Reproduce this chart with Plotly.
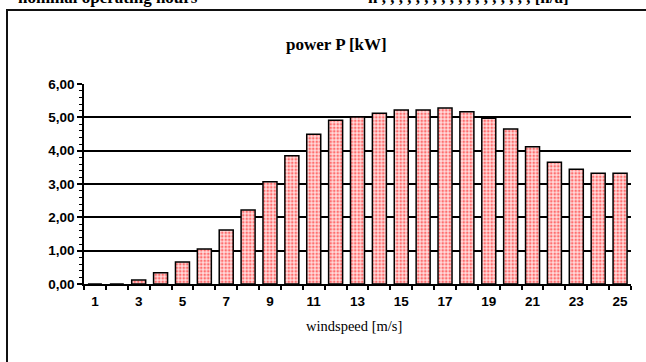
import plotly.graph_objects as go

windspeed = list(range(1, 26))
power_kw = [0.00, 0.00, 0.12, 0.34, 0.66, 1.05, 1.62, 2.22, 3.07, 3.85,
            4.49, 4.91, 5.01, 5.12, 5.22, 5.22, 5.28, 5.17, 4.97, 4.65,
            4.12, 3.65, 3.44, 3.32, 3.32]
x_tick_vals = list(range(1, 26, 2))
x_tick_text = [str(v) for v in x_tick_vals]
y_tick_vals = [0, 1, 2, 3, 4, 5, 6]
y_tick_text = ["0,00", "1,00", "2,00", "3,00", "4,00", "5,00", "6,00"]

W, H = 646, 362
L, R, T, B = 84, 15, 84, 78
pw = W - L - R
ph = H - T - B

def px(x):
    return (x - L) / pw

def py(y):
    return (H - B - y) / ph

fig = go.Figure()
fig.add_trace(go.Bar(
    x=windspeed, y=power_kw, width=0.64,
    marker=dict(color="white",
                line=dict(color="black", width=1.5),
                pattern=dict(shape=".", fgcolor="#ff0000", bgcolor="#ffdcdc",
                             size=3.5, solidity=0.45)),
    showlegend=False,
))

tickfont = dict(family="Liberation Sans, Arial", size=13.5, color="black")

fig.update_layout(
    width=W, height=H,
    margin=dict(l=L, r=R, t=T, b=B),
    paper_bgcolor="white", plot_bgcolor="white",
    xaxis=dict(range=[0.5, 25.5], tickmode="array", tickvals=x_tick_vals,
               ticktext=["<b>%s</b>" % t for t in x_tick_text], ticks="",
               showgrid=False, zeroline=False,
               showline=True, linecolor="black", linewidth=1.5,
               tickfont=tickfont, ticklabelstandoff=4,
               minor=dict(tickmode="linear", tick0=0.5, dtick=1, ticks="outside",
                          ticklen=4, tickwidth=1.5, tickcolor="black", showgrid=False),
               fixedrange=True),
    yaxis=dict(range=[0, 6], tickmode="array", tickvals=y_tick_vals,
               ticktext=["<b>%s</b>" % t for t in y_tick_text],
               ticks="outside", ticklen=5, tickwidth=1.5,
               tickcolor="black", showgrid=True, gridcolor="black", gridwidth=1.5,
               zeroline=False, showline=True, linecolor="black", linewidth=1.5,
               tickfont=tickfont,
               minor=dict(tickmode="linear", tick0=0, dtick=0.2, ticks="outside",
                          ticklen=3, tickwidth=1.2, tickcolor="black", showgrid=False),
               fixedrange=True),
    font=dict(family="Liberation Serif, Times New Roman", color="black"),
)

# outer frame
fig.add_shape(type="rect", xref="paper", yref="paper",
              x0=px(7), x1=px(660), y0=py(375), y1=py(10),
              line=dict(color="#111111", width=2), fillcolor="rgba(0,0,0,0)", layer="below")

# chart title
fig.add_annotation(text="<b>power P [kW]</b>", xref="paper", yref="paper",
                   x=px(336), y=py(45), xanchor="center", yanchor="middle",
                   showarrow=False,
                   font=dict(family="Liberation Serif, Times New Roman", size=17, color="black"))

# x axis title
fig.add_annotation(text="windspeed [m/s]", xref="paper", yref="paper",
                   x=px(354), y=py(326), xanchor="center", yanchor="middle",
                   showarrow=False,
                   font=dict(family="Liberation Serif, Times New Roman", size=14.5, color="black"))

# cut-off header text above the frame
fig.add_annotation(text="<b>nominal operating hours</b>", xref="paper", yref="paper",
                   x=px(200), y=py(9), xanchor="right", yanchor="bottom",
                   showarrow=False,
                   font=dict(family="Liberation Serif, Times New Roman", size=17, color="black"))
fig.add_annotation(text="<b>h , , , , , , , , , , , , , , , , , , [h/a]</b>", xref="paper", yref="paper",
                   x=px(366), y=py(9), xanchor="left", yanchor="bottom",
                   showarrow=False,
                   font=dict(family="Liberation Serif, Times New Roman", size=17, color="black"))

fig.write_html("out.html")
